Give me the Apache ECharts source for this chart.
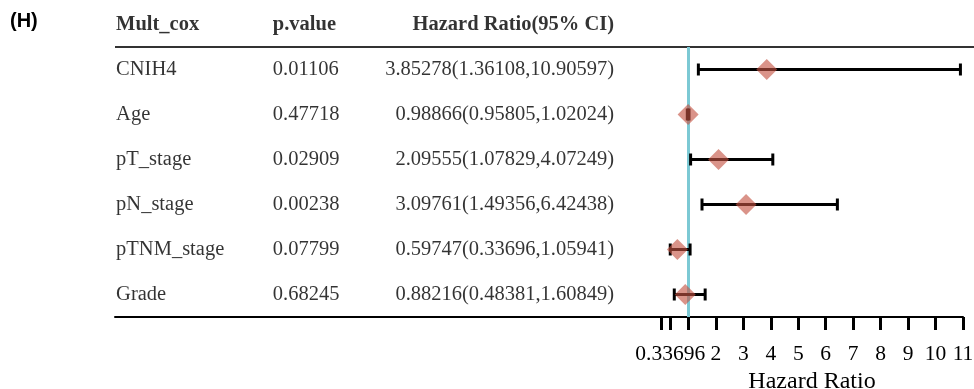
<!DOCTYPE html>
<html>
<head>
<meta charset="utf-8">
<script src="https://cdn.jsdelivr.net/npm/echarts@6/dist/echarts.min.js"></script>
<style>
  html, body { margin: 0; padding: 0; background: #fff; }
  #chart { width: 974px; height: 389px; }
</style>
</head>
<body>
<div id="chart"></div>
<script>
// Multivariate Cox regression results
const variables = ['CNIH4', 'Age', 'pT_stage', 'pN_stage', 'pTNM_stage', 'Grade'];
const pValues   = ['0.01106', '0.47718', '0.02909', '0.00238', '0.07799', '0.68245'];
const hazard    = [3.85278, 0.98866, 2.09555, 3.09761, 0.59747, 0.88216];
const ciLow     = [1.36108, 0.95805, 1.07829, 1.49356, 0.33696, 0.48381];
const ciHigh    = [10.90597, 1.02024, 4.07249, 6.42438, 1.05941, 1.60849];
const headers   = ['Mult_cox', 'p.value', 'Hazard Ratio(95% CI)'];
const tickValues  = [0, 0.33696, 1, 2, 3, 4, 5, 6, 7, 8, 9, 10, 11];
const tickLabels  = [0.33696, 2, 3, 4, 5, 6, 7, 8, 9, 10, 11];

const SERIF = '"Liberation Serif", "Times New Roman", serif';
const TABLE_FONT = 20.5;

function fmtCI(i) {
  return hazard[i].toFixed(5) + '(' + ciLow[i].toFixed(5) + ',' + ciHigh[i].toFixed(5) + ')';
}

// table rows: index 0 is the header row, 1..n the variables
const tableRows = [''].concat(variables);

// column anchors in table-grid units (0..1)
const COL_NAME = 0.002, COL_P = 0.289, COL_HR = 0.914;

function textSeries(name, xPos, align, texts, bold) {
  return {
    name: name,
    type: 'scatter',
    xAxisIndex: 0, yAxisIndex: 0,
    symbolSize: 0,
    silent: true,
    data: texts.map(t => ({ value: [xPos, t.row], text: t.text })),
    label: {
      show: true,
      position: 'inside',
      align: align,
      verticalAlign: 'middle',
      formatter: p => p.data.text,
      fontFamily: SERIF,
      fontSize: TABLE_FONT,
      fontWeight: bold ? 'bold' : 'normal',
      color: '#000'
    }
  };
}

const headerCols = [
  { x: COL_NAME, align: 'left' },
  { x: COL_P, align: 'left' },
  { x: COL_HR, align: 'right' }
];

const chart = echarts.init(document.getElementById('chart'), null, { renderer: 'canvas' });

const option = {
  animation: false,
  backgroundColor: '#fff',
  grid: [
    { left: 115, right: 313, top: 2, bottom: 72, containLabel: false, outerBoundsMode: 'none' },
    { left: 661, right: 11, top: 47, bottom: 72, containLabel: false, outerBoundsMode: 'none' }
  ],
  xAxis: [
    {
      gridIndex: 0, type: 'value', min: 0, max: 1,
      axisLine: { show: true, lineStyle: { color: '#000', width: 2 } },
      axisTick: { show: false }, axisLabel: { show: false }, splitLine: { show: false }
    },
    {
      gridIndex: 1, type: 'value', min: 0, max: 11,
      name: 'Hazard Ratio', nameLocation: 'middle', nameGap: 44,
      nameTextStyle: { fontFamily: SERIF, fontSize: 24, color: '#000' },
      axisLine: { show: true, lineStyle: { color: '#000', width: 2 } },
      axisTick: {
        show: true, length: 13, inside: false,
        customValues: tickValues,
        lineStyle: { color: '#000', width: 3 }
      },
      axisLabel: {
        show: true, margin: 26,
        customValues: tickLabels,
        hideOverlap: false,
        fontFamily: SERIF, fontSize: 21.5, color: '#000',
        verticalAlign: 'top'
      },
      splitLine: { show: false }
    }
  ],
  yAxis: [
    {
      gridIndex: 0, type: 'category', data: tableRows, inverse: true,
      axisLine: { show: false }, axisTick: { show: false }, axisLabel: { show: false }
    },
    {
      gridIndex: 1, type: 'category', data: variables, inverse: true,
      axisLine: { show: false }, axisTick: { show: false }, axisLabel: { show: false }
    }
  ],
  graphic: [
    // "(H)" panel tag
    {
      type: 'text', left: 10, top: 11,
      style: { text: '(H)', font: 'bold 20px "Liberation Sans", Arial, sans-serif', fill: '#000' }
    },
    // rule under the header row
    {
      type: 'line', silent: true,
      shape: { x1: 115, y1: 47, x2: 974, y2: 47 },
      style: { stroke: '#333', lineWidth: 2 }
    }
  ],
  series: [
    // header row
    ...headerCols.map((h, k) => ({
      name: 'header' + k,
      type: 'scatter', xAxisIndex: 0, yAxisIndex: 0,
      symbolSize: 0, silent: true,
      data: [{ value: [h.x, 0], text: headers[k] }],
      label: {
        show: true, position: 'inside', align: h.align, verticalAlign: 'middle',
        formatter: p => p.data.text,
        fontFamily: SERIF, fontSize: TABLE_FONT, fontWeight: 'bold', color: '#000'
      }
    })),
    textSeries('names', COL_NAME, 'left', variables.map((v, i) => ({ row: i + 1, text: v })), false),
    textSeries('pvalues', COL_P, 'left', pValues.map((v, i) => ({ row: i + 1, text: v })), false),
    textSeries('hr', COL_HR, 'right', variables.map((v, i) => ({ row: i + 1, text: fmtCI(i) })), false),

    // confidence interval whiskers
    {
      name: 'ci',
      type: 'custom',
      xAxisIndex: 1, yAxisIndex: 1,
      silent: true, z: 3,
      data: variables.map((v, i) => [ciLow[i], ciHigh[i], i]),
      renderItem: function (params, api) {
        const a = api.coord([api.value(0), api.value(2)]);
        const b = api.coord([api.value(1), api.value(2)]);
        const cap = 6;
        const style = { stroke: '#000', lineWidth: 3 };
        return {
          type: 'group',
          children: [
            { type: 'line', shape: { x1: a[0], y1: a[1], x2: b[0], y2: b[1] }, style: style },
            { type: 'line', shape: { x1: a[0], y1: a[1] - cap, x2: a[0], y2: a[1] + cap }, style: style },
            { type: 'line', shape: { x1: b[0], y1: b[1] - cap, x2: b[0], y2: b[1] + cap }, style: style }
          ]
        };
      }
    },
    // point estimates
    {
      name: 'hazard',
      type: 'scatter',
      xAxisIndex: 1, yAxisIndex: 1,
      symbol: 'diamond', symbolSize: [21, 21],
      z: 4, silent: true,
      itemStyle: { color: 'rgba(196,82,66,0.78)' },
      data: variables.map((v, i) => [hazard[i], i]),
      markLine: {
        silent: true, symbol: 'none', z: 2,
        label: { show: false },
        lineStyle: { color: '#7CC9D4', width: 3, type: 'solid' },
        data: [{ xAxis: 1 }]
      }
    }
  ]
};

chart.setOption(option);
</script>
</body>
</html>
